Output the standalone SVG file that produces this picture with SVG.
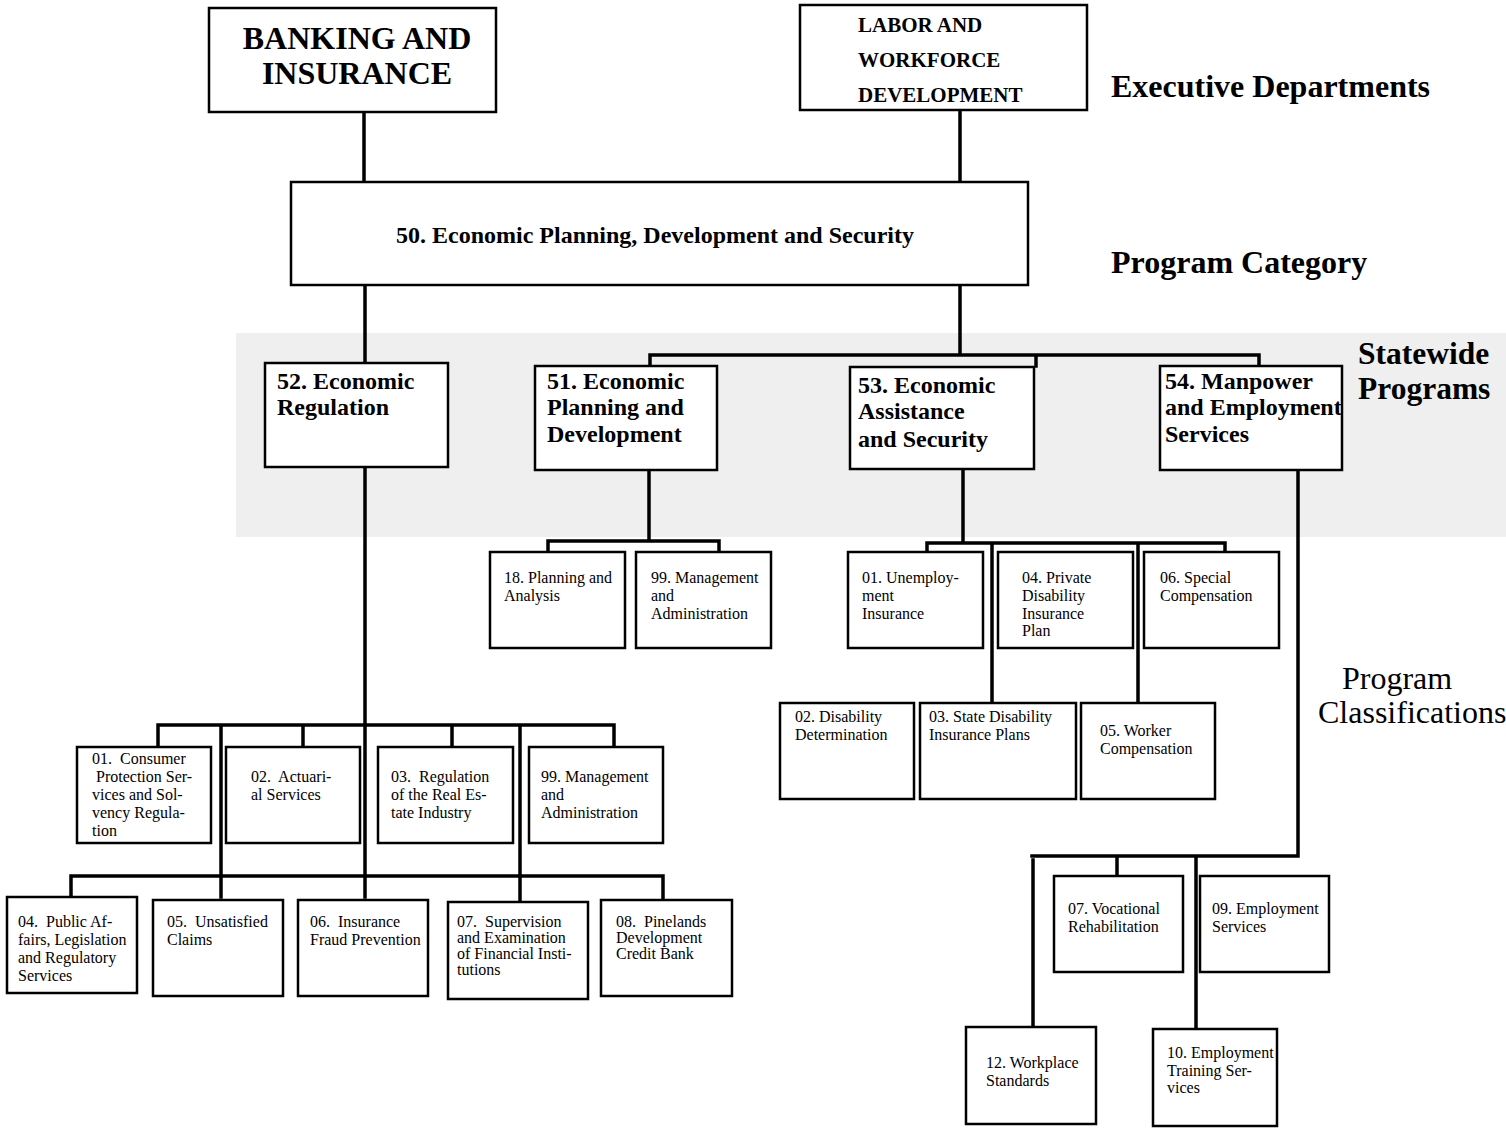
<svg xmlns="http://www.w3.org/2000/svg" width="1506" height="1133" viewBox="0 0 1506 1133">
<style>
.box{fill:#fff;stroke:#000;stroke-width:2.5}
.c{fill:none;stroke:#000;stroke-width:3.5;stroke-linecap:square}
.b{font-family:"Liberation Serif","Times New Roman",serif;font-weight:bold;fill:#000}
.r{font-family:"Liberation Serif","Times New Roman",serif;fill:#000}
.s{font-family:"Liberation Serif","Times New Roman",serif;font-size:16px;fill:#000;white-space:pre}
.m{font-size:24px}
</style>
<rect x="236" y="333" width="1270" height="204" fill="#efefef"/>
<g id="connectors">
<path class="c" d="M364 112V182M960 110V182"/>
<path class="c" d="M365 285V363M960 285V355M650 355H1259M650 355V366M1036 355V366M1259 355V366"/>
<path class="c" d="M649 470V541M548 541H719M548 541V551M719 541V551"/>
<path class="c" d="M963 470V543M927 543H1225M927 543V552M1225 543V552M992 543V703M1138 543V701"/>
<path class="c" d="M1298 470V856H1032M1033 860V1025M1117 856V876M1196 856V1027"/>
<path class="c" d="M365 467V897M158 725H614M158 725V745M303 725V745M452 725V745M614 725V745M221 725V897M520 725V902M71 876H663M71 876V897M663 876V900"/>
</g>
<g id="n-banking"><rect class="box" x="209" y="8" width="287" height="104"/>
<text class="b" font-size="32" x="357" y="49" text-anchor="middle">BANKING AND</text>
<text class="b" font-size="32" x="357" y="84" text-anchor="middle">INSURANCE</text></g>
<g id="n-labor"><rect class="box" x="800" y="5" width="287" height="105"/>
<text class="b" font-size="21" x="858" y="32">LABOR AND</text>
<text class="b" font-size="21" x="858" y="67">WORKFORCE</text>
<text class="b" font-size="21" x="858" y="102">DEVELOPMENT</text></g>
<text class="b" font-size="32" x="1111" y="97">Executive Departments</text>
<g id="n-50"><rect class="box" x="291" y="182" width="737" height="103"/>
<text class="b m" x="655" y="243" text-anchor="middle">50. Economic Planning, Development and Security</text></g>
<text class="b" font-size="32" x="1111" y="273">Program Category</text>
<text class="b" font-size="31.5" x="1358" y="364">Statewide</text>
<text class="b" font-size="31.5" x="1358" y="399">Programs</text>
<g id="n-52"><rect class="box" x="265" y="363" width="183" height="104"/>
<text class="b m" x="277" y="389">52. Economic</text><text class="b m" x="277" y="415">Regulation</text></g>
<g id="n-51"><rect class="box" x="535" y="366" width="182" height="104"/>
<text class="b m" x="547" y="389">51. Economic</text><text class="b m" x="547" y="415">Planning and</text><text class="b m" x="547" y="442">Development</text></g>
<g id="n-53"><rect class="box" x="850" y="367" width="184" height="102"/>
<text class="b m" x="858" y="393">53. Economic</text><text class="b m" x="858" y="419">Assistance</text><text class="b m" x="858" y="447">and Security</text></g>
<g id="n-54"><rect class="box" x="1160" y="366" width="182" height="104"/>
<text class="b m" x="1165" y="389">54. Manpower</text><text class="b m" x="1165" y="415">and Employment</text><text class="b m" x="1165" y="442">Services</text></g>
<g id="n-18"><rect class="box" x="490" y="552" width="135" height="96"/>
<text class="s" x="504" y="583">18. Planning and</text><text class="s" x="504" y="601">Analysis</text></g>
<g id="n-99a"><rect class="box" x="636" y="552" width="135" height="96"/>
<text class="s" x="651" y="583">99. Management</text><text class="s" x="651" y="601">and</text><text class="s" x="651" y="619">Administration</text></g>
<g id="n-01u"><rect class="box" x="848" y="552" width="135" height="96"/>
<text class="s" x="862" y="583">01. Unemploy-</text><text class="s" x="862" y="601">ment</text><text class="s" x="862" y="619">Insurance</text></g>
<g id="n-04p"><rect class="box" x="998" y="552" width="135" height="96"/>
<text class="s" x="1022" y="583">04. Private</text><text class="s" x="1022" y="601">Disability</text><text class="s" x="1022" y="619">Insurance</text><text class="s" x="1022" y="636">Plan</text></g>
<g id="n-06s"><rect class="box" x="1144" y="552" width="135" height="96"/>
<text class="s" x="1160" y="583">06. Special</text><text class="s" x="1160" y="601">Compensation</text></g>
<g id="n-02d"><rect class="box" x="780" y="703" width="134" height="96"/>
<text class="s" x="795" y="722">02. Disability</text><text class="s" x="795" y="740">Determination</text></g>
<g id="n-03s"><rect class="box" x="920" y="703" width="156" height="96"/>
<text class="s" x="929" y="722">03. State Disability</text><text class="s" x="929" y="740">Insurance Plans</text></g>
<g id="n-05w"><rect class="box" x="1081" y="703" width="134" height="96"/>
<text class="s" x="1100" y="736">05. Worker</text><text class="s" x="1100" y="754">Compensation</text></g>
<text class="r" font-size="32" x="1342" y="689">Program</text>
<text class="r" font-size="32" x="1318" y="723">Classifications</text>
<g id="n-07v"><rect class="box" x="1054" y="876" width="129" height="96"/>
<text class="s" x="1068" y="914">07. Vocational</text><text class="s" x="1068" y="932">Rehabilitation</text></g>
<g id="n-09e"><rect class="box" x="1200" y="876" width="129" height="96"/>
<text class="s" x="1212" y="914">09. Employment</text><text class="s" x="1212" y="932">Services</text></g>
<g id="n-12w"><rect class="box" x="966" y="1027" width="130" height="97"/>
<text class="s" x="986" y="1068">12. Workplace</text><text class="s" x="986" y="1086">Standards</text></g>
<g id="n-10e"><rect class="box" x="1153" y="1029" width="124" height="97"/>
<text class="s" x="1167" y="1058">10. Employment</text><text class="s" x="1167" y="1076">Training Ser-</text><text class="s" x="1167" y="1093">vices</text></g>
<g id="n-01c"><rect class="box" x="77" y="747" width="134" height="96"/>
<text class="s" x="92" y="764">01.  Consumer</text><text class="s" x="92" y="782"> Protection Ser-</text><text class="s" x="92" y="800">vices and Sol-</text><text class="s" x="92" y="818">vency Regula-</text><text class="s" x="92" y="836">tion</text></g>
<g id="n-02a"><rect class="box" x="226" y="747" width="134" height="96"/>
<text class="s" x="251" y="782">02.  Actuari-</text><text class="s" x="251" y="800">al Services</text></g>
<g id="n-03r"><rect class="box" x="378" y="747" width="135" height="96"/>
<text class="s" x="391" y="782">03.  Regulation</text><text class="s" x="391" y="800">of the Real Es-</text><text class="s" x="391" y="818">tate Industry</text></g>
<g id="n-99b"><rect class="box" x="529" y="747" width="134" height="96"/>
<text class="s" x="541" y="782">99. Management</text><text class="s" x="541" y="800">and</text><text class="s" x="541" y="818">Administration</text></g>
<g id="n-04pa"><rect class="box" x="7" y="897" width="130" height="96"/>
<text class="s" x="18" y="927">04.  Public Af-</text><text class="s" x="18" y="945">fairs, Legislation</text><text class="s" x="18" y="963">and Regulatory</text><text class="s" x="18" y="981">Services</text></g>
<g id="n-05u"><rect class="box" x="153" y="900" width="130" height="96"/>
<text class="s" x="167" y="927">05.  Unsatisfied</text><text class="s" x="167" y="945">Claims</text></g>
<g id="n-06i"><rect class="box" x="298" y="900" width="130" height="96"/>
<text class="s" x="310" y="927">06.  Insurance</text><text class="s" x="310" y="945">Fraud Prevention</text></g>
<g id="n-07s"><rect class="box" x="448" y="902" width="140" height="97"/>
<text class="s" x="457" y="927">07.  Supervision</text><text class="s" x="457" y="943">and Examination</text><text class="s" x="457" y="959">of Financial Insti-</text><text class="s" x="457" y="975">tutions</text></g>
<g id="n-08p"><rect class="box" x="601" y="900" width="131" height="96"/>
<text class="s" x="616" y="927">08.  Pinelands</text><text class="s" x="616" y="943">Development</text><text class="s" x="616" y="959">Credit Bank</text></g>
</svg>
